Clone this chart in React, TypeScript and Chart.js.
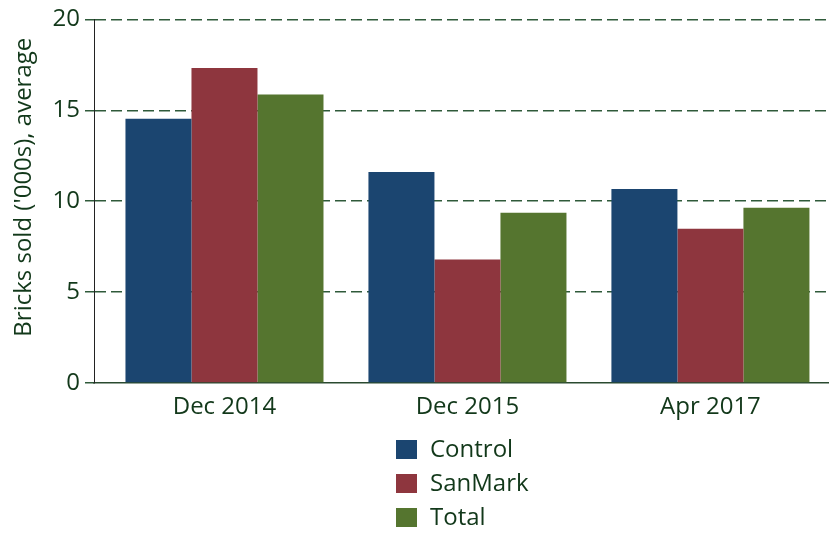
import React, { useEffect, useRef } from 'react';
import { Chart, registerables } from 'chart.js';

Chart.register(...registerables);

const categories = ['Dec 2014', 'Dec 2015', 'Apr 2017'];
const seriesNames = ['Control', 'SanMark', 'Total'];
const controlValues = [14.54, 11.6, 10.67];
const sanMarkValues = [17.33, 6.79, 8.49];
const totalValues = [15.87, 9.37, 9.64];
const yTickValues = [0, 5, 10, 15, 20];
const yTitle = "Bricks sold ('000s), average";

const seriesColors = ['#1b4570', '#8e363e', '#55752f'];
const TEXT = '#12381a';
const GRID = '#2f5a3a';
const FONT = '"Open Sans", "Noto Sans", sans-serif';

const overlayPlugin = {
  id: 'overlay',
  afterDraw(chart: any) {
    const ctx = chart.ctx;
    const area = chart.chartArea;
    ctx.save();
    ctx.font = `24px ${FONT}`;
    ctx.fillStyle = TEXT;
    ctx.translate(24, (area.top + area.bottom) / 2 - 14);
    ctx.rotate(-Math.PI / 2);
    ctx.textAlign = 'center';
    ctx.textBaseline = 'middle';
    ctx.fillText(yTitle, 0, 0);
    ctx.restore();

    ctx.save();
    ctx.font = `24px ${FONT}`;
    ctx.textAlign = 'left';
    ctx.textBaseline = 'middle';
    chart.data.datasets.forEach((ds: any, i: number) => {
      const y = area.bottom + 57 + i * 34;
      ctx.fillStyle = ds.backgroundColor;
      ctx.fillRect(396, y, 21, 19);
      ctx.fillStyle = TEXT;
      ctx.fillText(ds.label, 430, y + 10);
    });
    ctx.restore();
  },
};

export default function App() {
  const ref = useRef<HTMLCanvasElement | null>(null);

  useEffect(() => {
    if (!ref.current) return;
    const valueSets = [controlValues, sanMarkValues, totalValues];
    const chart = new Chart(ref.current, {
      type: 'bar',
      data: {
        datasets: seriesNames.map((name, i) => ({
          label: name,
          data: valueSets[i].map((v, j) => ({ x: j, y: v })),
          backgroundColor: seriesColors[i],
          borderWidth: 0,
          categoryPercentage: 0.815,
          barPercentage: 1.0,
        })),
      },
      options: {
        responsive: false,
        animation: false,
        layout: { padding: { top: 18, right: 0, bottom: 0, left: 0 } },
        plugins: {
          legend: { display: false },
          tooltip: { enabled: false },
        },
        scales: {
          x: {
            type: 'linear',
            min: -0.537,
            max: 2.488,
            offset: false,
            afterBuildTicks: (scale: any) => {
              scale.ticks = categories.map((_, i) => ({ value: i }));
            },
            afterFit: (scale: any) => {
              scale.height = 536 - 383;
            },
            grid: { display: false, drawTicks: false },
            border: { display: true, color: '#2a4a30', width: 1.5 },
            ticks: {
              padding: 10,
              color: TEXT,
              font: { family: FONT, size: 24 },
              maxRotation: 0,
              autoSkip: false,
              callback: (v: any) => categories[v] ?? '',
            },
          },
          y: {
            min: 0,
            max: 20,
            afterBuildTicks: (scale: any) => {
              scale.ticks = yTickValues.map((v) => ({ value: v }));
            },
            afterFit: (scale: any) => {
              scale.width = 94;
            },
            grid: {
              color: (c: any) => (c.tick && c.tick.value === 0 ? 'rgba(0,0,0,0)' : GRID),
              lineWidth: 1.5,
              tickLength: 9,
              tickColor: GRID,
              tickWidth: 1.5,
              tickBorderDash: [],
            },
            border: { display: true, color: '#222222', width: 1, dash: [11, 5] },
            ticks: {
              padding: 5,
              color: TEXT,
              font: { family: FONT, size: 24 },
            },
          },
        },
      },
      plugins: [overlayPlugin],
    } as any);
    return () => chart.destroy();
  }, []);

  return (
    <div style={{ position: 'absolute', left: 0, top: 0, width: 829, height: 536, overflow: 'hidden', background: '#fff' }}>
      <canvas ref={ref} width={829} height={536} />
    </div>
  );
}
